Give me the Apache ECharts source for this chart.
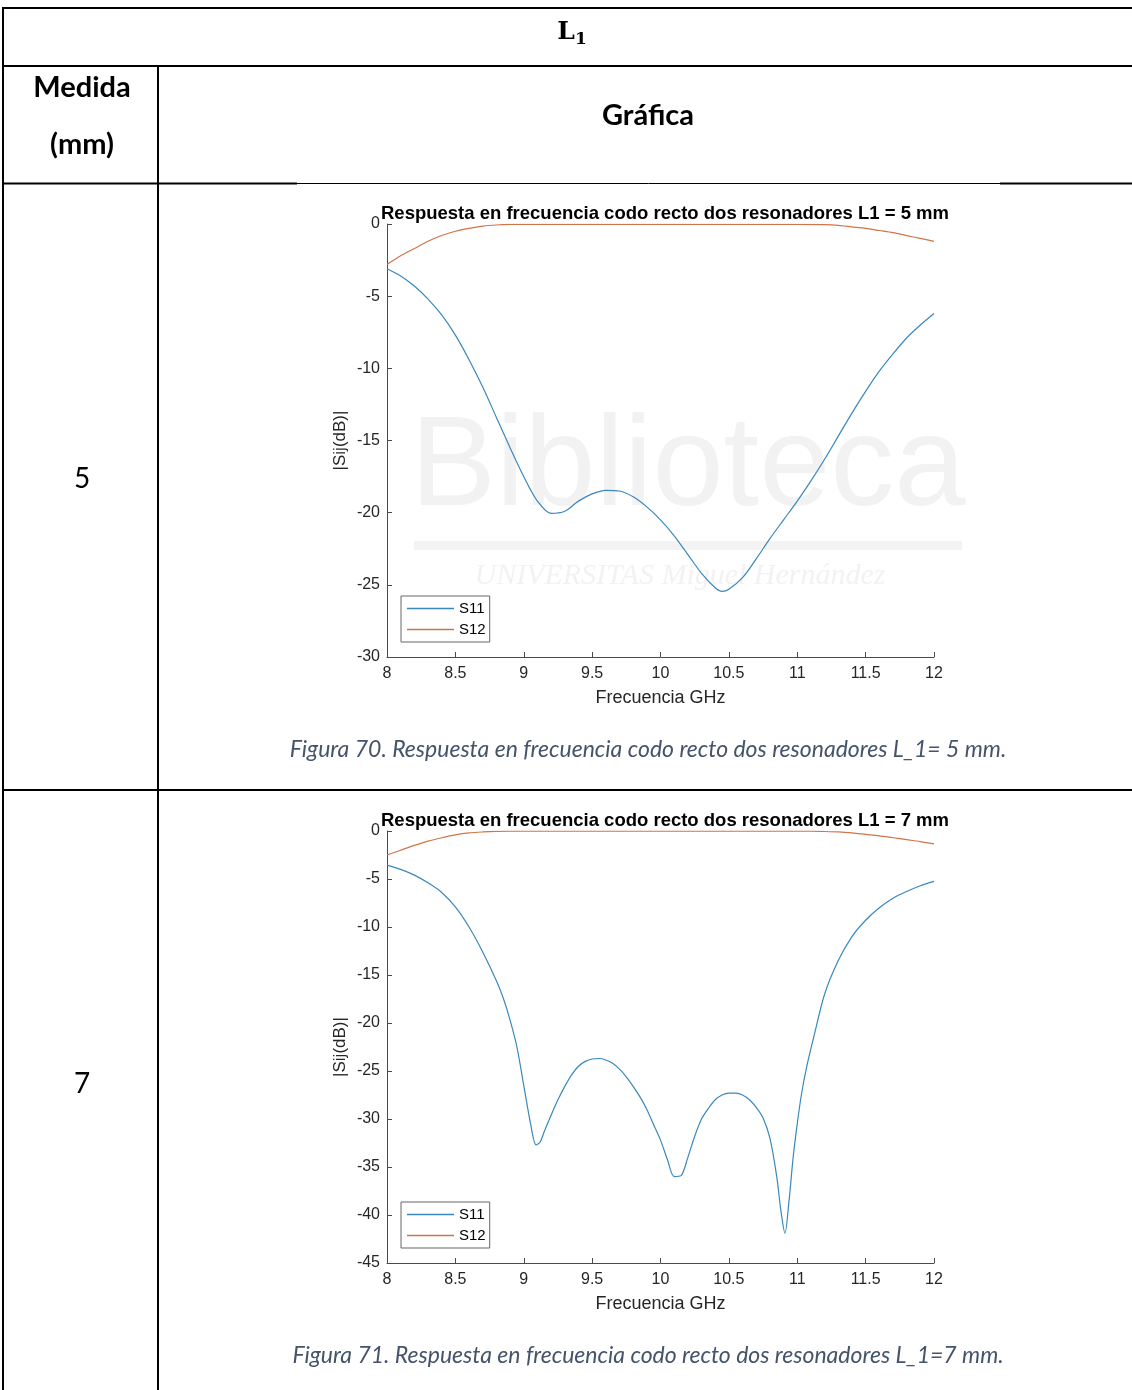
<!DOCTYPE html>
<html>
<head>
<meta charset="utf-8">
<script src="https://cdn.jsdelivr.net/npm/echarts@6/dist/echarts.min.js"></script>
<style>
html,body{margin:0;padding:0;background:#fff;}
#main{width:1132px;height:1390px;}
</style>
</head>
<body>
<div id="main"></div>
<script>
// ---- Data ----
const xTicks = [8, 8.5, 9, 9.5, 10, 10.5, 11, 11.5, 12];

// L1 = 5 mm
const s11L5Freq = [8.0,8.1,8.2,8.3,8.4,8.5,8.6,8.7,8.8,8.9,9.0,9.1,9.2,9.3,9.4,9.5,9.6,9.7,9.8,9.9,10.0,10.1,10.2,10.3,10.4,10.45,10.5,10.6,10.7,10.8,10.9,11.0,11.1,11.2,11.3,11.4,11.5,11.6,11.7,11.8,11.9,12.0];
const s11L5 = [-3.1,-3.6,-4.3,-5.2,-6.3,-7.7,-9.4,-11.3,-13.4,-15.5,-17.5,-19.2,-20.05,-19.9,-19.2,-18.7,-18.45,-18.5,-18.9,-19.6,-20.5,-21.6,-22.9,-24.2,-25.2,-25.45,-25.3,-24.5,-23.2,-21.8,-20.5,-19.2,-17.8,-16.3,-14.7,-13.1,-11.6,-10.2,-9.0,-7.9,-7.0,-6.2];
const s12L5Freq = [8.0,8.1,8.2,8.3,8.4,8.5,8.6,8.7,8.8,8.9,9.0,9.5,10.0,10.5,11.0,11.2,11.3,11.4,11.5,11.6,11.7,11.8,11.9,12.0];
const s12L5 = [-2.8,-2.2,-1.7,-1.2,-0.8,-0.5,-0.3,-0.15,-0.07,-0.03,-0.02,-0.02,-0.02,-0.02,-0.02,-0.05,-0.1,-0.2,-0.3,-0.45,-0.6,-0.8,-1.0,-1.2];

// L1 = 7 mm
const s11L7Freq = [8.0,8.1,8.2,8.3,8.4,8.5,8.6,8.7,8.8,8.85,8.9,8.95,9.0,9.05,9.09,9.12,9.15,9.2,9.25,9.3,9.35,9.4,9.45,9.5,9.55,9.6,9.65,9.7,9.75,9.8,9.85,9.9,9.95,10.0,10.05,10.1,10.15,10.2,10.25,10.3,10.35,10.4,10.45,10.5,10.55,10.6,10.65,10.7,10.75,10.8,10.85,10.88,10.91,10.94,10.97,11.0,11.03,11.07,11.12,11.2,11.3,11.4,11.5,11.6,11.7,11.8,11.9,12.0];
const s11L7 = [-3.55,-4.0,-4.6,-5.4,-6.4,-7.9,-10.0,-12.6,-15.6,-17.4,-19.7,-22.5,-26.5,-30.5,-32.7,-32.4,-31.3,-29.6,-28.0,-26.6,-25.4,-24.5,-24.0,-23.75,-23.7,-23.85,-24.2,-24.8,-25.6,-26.6,-27.7,-29.0,-30.6,-32.2,-34.2,-36.0,-35.9,-34.0,-31.8,-30.0,-28.9,-28.0,-27.5,-27.3,-27.3,-27.5,-28.0,-28.8,-29.9,-32.0,-36.0,-39.5,-41.9,-38.5,-34.0,-30.5,-27.5,-24.5,-21.5,-17.0,-13.5,-11.0,-9.3,-8.0,-7.0,-6.3,-5.7,-5.25];
const s12L7Freq = [8.0,8.1,8.2,8.3,8.4,8.5,8.6,8.7,8.8,8.9,9.5,10.0,10.5,11.0,11.1,11.2,11.3,11.4,11.5,11.6,11.7,11.8,11.9,12.0];
const s12L7 = [-2.5,-2.0,-1.5,-1.05,-0.7,-0.4,-0.2,-0.1,-0.04,-0.02,-0.02,-0.02,-0.02,-0.02,-0.02,-0.05,-0.1,-0.2,-0.35,-0.5,-0.7,-0.9,-1.1,-1.35];

const titles = ['Respuesta en frecuencia codo recto dos resonadores L1 = 5 mm','Respuesta en frecuencia codo recto dos resonadores L1 = 7 mm'];
const captions = ['Figura 70. Respuesta en frecuencia codo recto dos resonadores L_1= 5 mm.','Figura 71. Respuesta en frecuencia codo recto dos resonadores L_1=7 mm.'];
const medidas = ['5','7'];
const seriesNames = ['S11','S12'];

// ---- Chart ----
const pair = (xs, ys) => xs.map((x, i) => [x, ys[i]]);
const BLUE = '#3a88bb', ORANGE = '#cf7548', AX = '#4a4a4a';
const FF = '"Liberation Sans", Arial, sans-serif';
const chart = echarts.init(document.getElementById('main'), null, {renderer:'canvas'});

const grids = [
  {left:387, top:224, width:547, height:433},
  {left:387, top:831, width:547, height:432}
];
const yMins = [-30, -45];

function xAxis(i){
  return {type:'value', gridIndex:i, min:8, max:12, interval:0.5,
    name:'Frecuencia GHz', nameLocation:'middle', nameGap:32,
    nameTextStyle:{color:'#262626', fontSize:18, fontFamily:FF},
    axisLine:{show:true, onZero:false, lineStyle:{color:AX, width:1}},
    axisTick:{show:true, inside:true, length:5, lineStyle:{color:AX}},
    axisLabel:{color:'#262626', fontSize:16, margin:9, fontFamily:FF,
      formatter:v => String(v)},
    splitLine:{show:false}};
}
function yAxis(i){
  return {type:'value', gridIndex:i, min:yMins[i], max:0, interval:5,
    name:'|Sij(dB)|', nameLocation:'middle', nameGap:38, nameRotate:90,
    nameTextStyle:{color:'#262626', fontSize:17, fontFamily:FF},
    axisLine:{show:true, onZero:false, lineStyle:{color:AX, width:1}},
    axisTick:{show:true, inside:true, length:5, lineStyle:{color:AX}},
    axisLabel:{color:'#262626', fontSize:16, margin:7, fontFamily:FF},
    splitLine:{show:false}};
}

const lineW = 1.2;
function mkLine(name, data, xi, color){
  return {type:'line', name:name, xAxisIndex:xi, yAxisIndex:xi, data:data,
    showSymbol:false, symbol:'none', smooth:0.3, lineStyle:{color:color, width:lineW},
    itemStyle:{color:color}, z:3, animation:false};
}

const g = [];
const lc = '#000';
function hline(y, x1, x2, w){ g.push({type:'line', shape:{x1:x1,y1:y,x2:x2,y2:y}, style:{stroke:lc, lineWidth:w}, z:10}); }
function vline(x, y1, y2, w){ g.push({type:'line', shape:{x1:x,y1:y1,x2:x,y2:y2}, style:{stroke:lc, lineWidth:w}, z:10}); }
function txt(t, x, y, font, fill, align){ g.push({type:'text', x:x, y:y, style:{text:t, font:font, fill:fill||'#000', align:align||'center', verticalAlign:'middle'}, z:10}); }

// faint watermark behind the first chart
g.push({type:'text', x:688, y:470, style:{text:'Biblioteca', font:'128px "Liberation Sans", Arial', fill:'#f2f2f2', align:'center', verticalAlign:'middle'}, z:0});
g.push({type:'rect', shape:{x:414, y:541, width:548, height:9}, style:{fill:'#f3f3f3'}, z:0});
g.push({type:'text', x:680, y:576, style:{text:'UNIVERSITAS Miguel Hernández', font:'italic 30px "Liberation Serif", serif', fill:'#f2f2f2', align:'center', verticalAlign:'middle'}, z:0});

// table lines
hline(8, 3, 1132, 2);
vline(3, 7, 1390, 2);
hline(66, 3, 1132, 2);
vline(158, 66, 1390, 2);
hline(183.5, 3, 297, 2);
hline(183.5, 297, 1000, 1);
hline(183.5, 1000, 1132, 2);
hline(790, 3, 1132, 2);

// header text
txt('L', 566, 32, 'bold 25px "DejaVu Serif", "Liberation Serif", serif');
txt('1', 581, 40, 'bold 17px "DejaVu Serif", "Liberation Serif", serif');
txt('Medida', 82, 88, 'bold 29px Lato, "Open Sans", sans-serif');
txt('(mm)', 82, 145, 'bold 29px Lato, "Open Sans", sans-serif');
txt('Gráfica', 648, 116, 'bold 29px Lato, "Open Sans", sans-serif');
txt(medidas[0], 82, 479, '28px Lato, "Open Sans", sans-serif');
txt(medidas[1], 82, 1084, '28px Lato, "Open Sans", sans-serif');
txt(captions[0], 648, 750, 'italic 23px Lato, "Open Sans", sans-serif', '#44546A');
txt(captions[1], 648, 1356, 'italic 23px Lato, "Open Sans", sans-serif', '#44546A');

function legend(top){
  return {data:seriesNames.map(n=>({name:n, icon:'rect'})), orient:'vertical', left:401, top:top,
     itemWidth:47, itemHeight:1.6, itemGap:6, padding:[5,4,5,6], backgroundColor:'#fff', borderColor:'#666', borderWidth:1, borderRadius:0,
     textStyle:{color:'#000', fontSize:15, fontFamily:FF}, selectedMode:false};
}

const option = {
  backgroundColor:'#fff',
  animation:false,
  title:[
    {text:titles[0], left:660, top:199, textAlign:'center', textStyle:{fontSize:18.5, fontWeight:'bold', color:'#000', fontFamily:FF}},
    {text:titles[1], left:660, top:806, textAlign:'center', textStyle:{fontSize:18.5, fontWeight:'bold', color:'#000', fontFamily:FF}}
  ],
  grid:grids,
  xAxis:[xAxis(0), xAxis(1)],
  yAxis:[yAxis(0), yAxis(1)],
  legend:[legend(596), legend(1202)],
  graphic:g,
  series:[
    mkLine(seriesNames[0], pair(s11L5Freq, s11L5), 0, BLUE),
    mkLine(seriesNames[1], pair(s12L5Freq, s12L5), 0, ORANGE),
    mkLine(seriesNames[0], pair(s11L7Freq, s11L7), 1, BLUE),
    mkLine(seriesNames[1], pair(s12L7Freq, s12L7), 1, ORANGE)
  ]
};
chart.setOption(option);
</script>
</body>
</html>
